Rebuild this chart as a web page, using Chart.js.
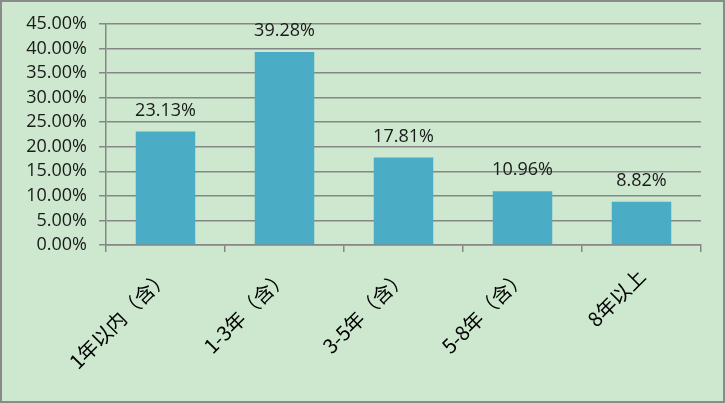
<!DOCTYPE html>
<html>
<head>
<meta charset="utf-8">
<script src="https://cdn.jsdelivr.net/npm/chart.js@4/dist/chart.umd.min.js"></script>
<style>
html,body{margin:0;padding:0;background:#cde8cf;}
#wrap{position:relative;width:725px;height:403px;}
canvas{display:block;}
</style>
</head>
<body>
<div id="wrap"><canvas id="c" width="725" height="403"></canvas></div>
<script>
const categories = ['1年以内（含）', '1-3年（含）', '3-5年（含）', '5-8年（含）', '8年以上'];
const values = [23.13, 39.28, 17.81, 10.96, 8.82];
const yTicks = [0, 5, 10, 15, 20, 25, 30, 35, 40, 45];

const BG = '#cde8cf';
const GRID = '#868686';
const BAR = '#4bacc6';
const NUMFONT = '"Open Sans"';

const frame = {
  id: 'frame',
  beforeDraw(chart) {
    const ctx = chart.ctx;
    ctx.save();
    ctx.fillStyle = BG;
    ctx.fillRect(0, 0, chart.width, chart.height);
    ctx.restore();
  },
  afterDraw(chart) {
    const ctx = chart.ctx;
    ctx.save();
    ctx.strokeStyle = '#8a8a8a';
    ctx.lineWidth = 2;
    ctx.strokeRect(1, 1, chart.width - 2, chart.height - 2);
    ctx.restore();
  }
};

const dataLabels = {
  id: 'dataLabels',
  afterDatasetsDraw(chart) {
    const ctx = chart.ctx;
    const meta = chart.getDatasetMeta(0);
    ctx.save();
    ctx.font = '18px ' + NUMFONT;
    ctx.fillStyle = '#1a1a1a';
    ctx.textAlign = 'center';
    ctx.textBaseline = 'middle';
    meta.data.forEach((el, i) => {
      const v = chart.data.datasets[0].data[i];
      ctx.fillText(v.toFixed(2) + '%', el.x, el.y - 21);
    });
    ctx.restore();
  }
};

new Chart(document.getElementById('c'), {
  type: 'bar',
  data: {
    labels: categories,
    datasets: [{
      data: values,
      backgroundColor: BAR,
      borderWidth: 0,
      barPercentage: 0.5,
      categoryPercentage: 1
    }]
  },
  options: {
    responsive: false,
    animation: false,
    devicePixelRatio: 1,
    layout: { padding: { top: 24, right: 24, bottom: 0, left: 0 } },
    plugins: { legend: { display: false }, tooltip: { enabled: false } },
    scales: {
      x: {
        grid: { display: true, drawOnChartArea: false, drawTicks: true, tickLength: 7, color: GRID, lineWidth: 1.5 },
        border: { display: true, color: GRID, width: 1.5 },
        ticks: {
          minRotation: 45, maxRotation: 45, autoSkip: false, padding: 12,
          color: '#000', font: { family: '"Noto Sans CJK SC"', size: 20 }
        },
        afterFit(scale) { scale.height = 158; }
      },
      y: {
        min: 0, max: 45,
        afterBuildTicks(scale) { scale.ticks = yTicks.map(v => ({ value: v })); },
        grid: { color: GRID, lineWidth: 1.5, tickLength: 7, drawTicks: true },
        border: { display: true, color: GRID, width: 1.5 },
        ticks: {
          autoSkip: false, padding: 12, color: '#1a1a1a',
          font: { family: NUMFONT, size: 18 },
          callback: v => v.toFixed(2) + '%'
        },
        afterFit(scale) { scale.width = 106; }
      }
    }
  },
  plugins: [frame, dataLabels]
});
</script>
</body>
</html>
